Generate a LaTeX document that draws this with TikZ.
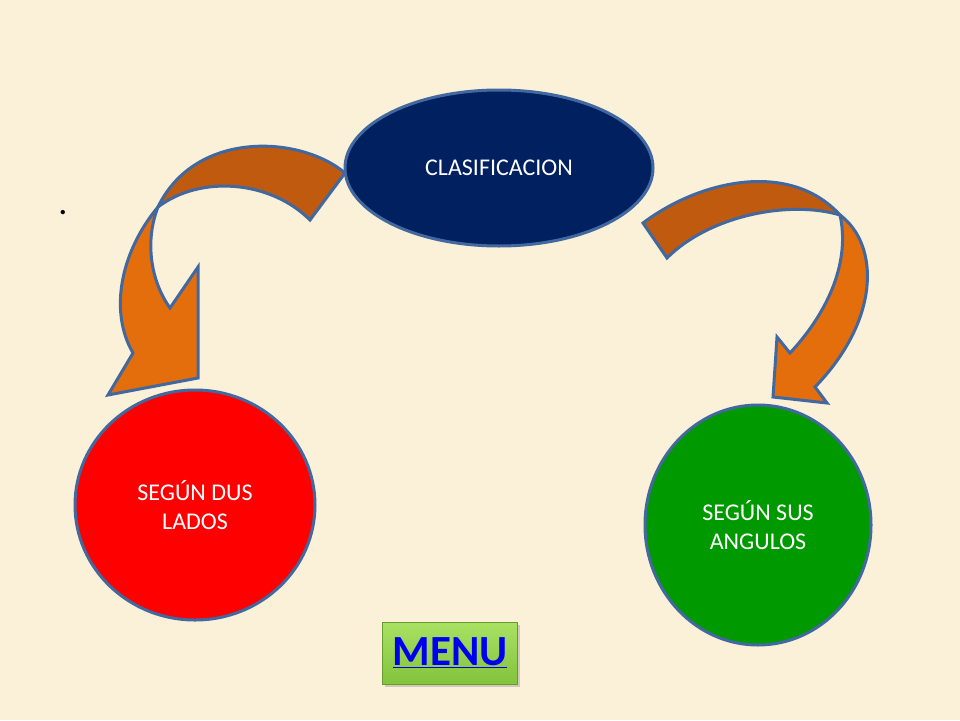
\documentclass[tikz,border=0pt]{standalone}
\usepackage{fontspec}
\setmainfont{Carlito}
\usetikzlibrary{shapes.geometric,shadows}
\definecolor{bgc}{RGB}{251,240,216}
\definecolor{edgec}{RGB}{65,105,160}
\definecolor{navy}{RGB}{0,32,96}
\definecolor{darkor}{RGB}{192,90,15}
\definecolor{lightor}{RGB}{228,110,12}
\definecolor{redc}{RGB}{255,0,0}
\definecolor{greenc}{RGB}{0,153,0}
\definecolor{btnlight}{RGB}{170,225,100}
\definecolor{btndark}{RGB}{130,195,60}
\definecolor{linkblue}{RGB}{0,0,240}
\tikzset{
  blob/.style={ellipse, draw=edgec, line width=3pt, text=white, align=center,
    font=\fontsize{24}{29}\selectfont, inner sep=0pt},
  band/.style={draw=edgec, line width=3pt, line join=miter},
  menubtn/.style={rectangle, minimum width=135pt, minimum height=62pt,
    top color=btnlight, bottom color=btndark, draw=btndark!80!black, line width=0.6pt,
    drop shadow={shadow xshift=2pt, shadow yshift=-3pt, opacity=0.35},
    font=\fontsize{43}{44}\bfseries\selectfont, text=linkblue}
}
\begin{document}
\begin{tikzpicture}[x=1pt,y=-1pt]
\fill[bgc] (0,0) rectangle (960,720);
\useasboundingbox (0,0) rectangle (960,720);

% left curved arrow
\coordinate (la) at (345,173);
\coordinate (lb) at (158,207);
\coordinate (lc) at (310,220);
\draw[band, fill=darkor] (la) .. controls (300,135) and (195,130) .. (lb)
  .. controls (200,175) and (270,180) .. (lc) -- cycle;
\draw[band, fill=lightor] (lb) .. controls (122,250) and (108,310) .. (133,353)
  -- (108,395) -- (198,378) -- (198,267) -- (170,308)
  .. controls (150,280) and (145,240) .. (lb) -- cycle;

% right curved arrow
\coordinate (ra) at (643,223);
\coordinate (rb) at (840,215);
\coordinate (rc) at (667,258);
\draw[band, fill=darkor] (ra) .. controls (700,180) and (790,160) .. (rb)
  .. controls (790,200) and (710,215) .. (rc) -- cycle;
\draw[band, fill=lightor] (rb) .. controls (880,245) and (880,320) .. (815,387)
  -- (827,403) -- (773,397) -- (777,337) -- (790,353)
  .. controls (830,310) and (850,260) .. (rb) -- cycle;

% nodes
\node[blob, fill=navy, minimum width=308pt, minimum height=156pt] (clas) at (499,168) {CLASIFICACION};
\node[blob, fill=redc, minimum width=240pt, minimum height=230pt] (lados) at (195,505) {SEGÚN DUS\\LADOS};
\node[blob, fill=greenc, minimum width=226pt, minimum height=240pt] (angulos) at (758,525) {SEGÚN SUS\\ANGULOS};

\node[menubtn] (menu) at (450,653) {\underline{MENU}};

\node[font=\fontsize{36}{36}\selectfont, inner sep=0pt, anchor=base] (dot) at (63,214) {.};
\end{tikzpicture}
\end{document}
